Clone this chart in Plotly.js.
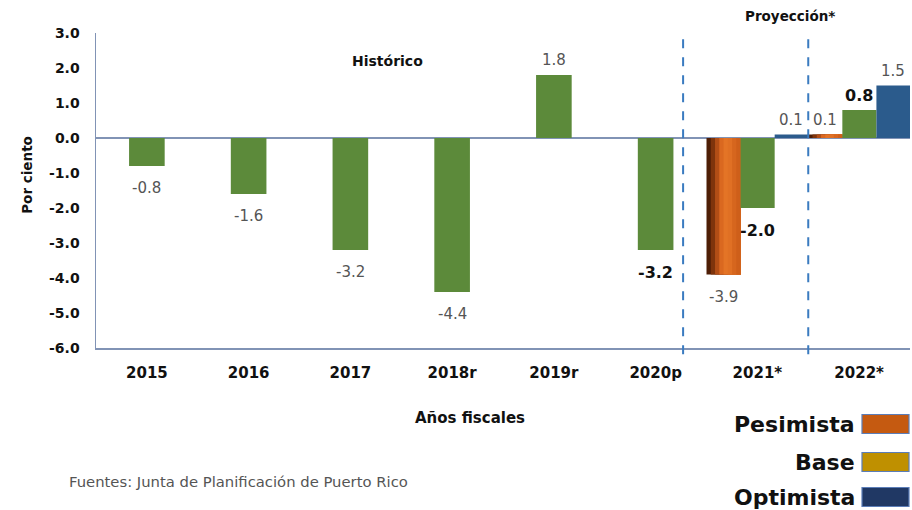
<!DOCTYPE html>
<html>
<head>
<meta charset="utf-8">
<script src="https://cdn.plot.ly/plotly-3.0.1.min.js"></script>
<style>html,body{margin:0;padding:0;background:#fff;}#chart{width:912px;height:510px;}</style>
</head>
<body>
<div id="chart"></div>
<script>
// ---- Data ----
const categories = ['2015', '2016', '2017', '2018r', '2019r', '2020p', '2021*', '2022*'];
const historicoYears = ['2015', '2016', '2017', '2018r', '2019r', '2020p'];
const historico = [-0.8, -1.6, -3.2, -4.4, 1.8, -3.2];
const historicoBold = [false, false, false, false, false, true];
const proyeccionYears = ['2021*', '2022*'];
const pesimista = [-3.9, 0.1];
const base = [-2.0, 0.8];
const optimista = [0.1, 1.5];
const baseBold = [true, true];
const yTickValues = [3, 2, 1, 0, -1, -2, -3, -4, -5, -6];
const yTickLabels = ['3.0', '2.0', '1.0', '0.0', '-1.0', '-2.0', '-3.0', '-4.0', '-5.0', '-6.0'];
const legendNames = ['Pesimista', 'Base', 'Optimista'];

// ---- Styles ----
const FONT = 'DejaVu Sans, sans-serif';
const GREEN = '#5C8A3A';
const BLUE = '#2B5B8C';
const AXIS = '#8193B5';
const legendColors = ['#C55A11', '#BF9000', '#203864'];
const orangeShades = ['#4E1E06', '#7E340C', '#B24E16', '#DA6820', '#E47426', '#E07024', '#D6661E', '#CE5F1A'];

const idx = c => categories.indexOf(c);
const hx = historicoYears.map(idx);
const px = proyeccionYears.map(idx);

const traces = [
  {type: 'bar', x: hx, y: historico, width: 0.35, marker: {color: GREEN}, hoverinfo: 'skip', showlegend: false}
];
// Pesimista bar drawn as overlapping layers for a shaded (gradient) look
const pesOffset = -0.5, pesWidth = 0.335;
const stripW = pesWidth / orangeShades.length;
orangeShades.forEach((c, k) => {
  traces.push({type: 'bar', x: px, y: pesimista, offset: pesOffset + k * stripW, width: pesWidth - k * stripW,
    marker: {color: c, line: {width: 0}}, hoverinfo: 'skip', showlegend: false});
});
traces.push(
  {type: 'bar', x: px, y: base, offset: -0.165, width: 0.335, marker: {color: GREEN}, hoverinfo: 'skip', showlegend: false},
  {type: 'bar', x: px, y: optimista, offset: 0.17, width: 0.33, marker: {color: BLUE}, hoverinfo: 'skip', showlegend: false}
);

function label(x, v, bold) {
  return {
    x: x, y: v, xref: 'x', yref: 'y', showarrow: false,
    text: bold ? '<b>' + v.toFixed(1) + '</b>' : v.toFixed(1),
    font: {family: FONT, size: bold ? 16 : 15, color: bold ? '#111' : '#555'},
    yanchor: 'middle', yshift: v < 0 ? -22 : 15
  };
}

const annotations = [];
historico.forEach((v, i) => annotations.push(label(hx[i], v, historicoBold[i])));
pesimista.forEach((v, i) => annotations.push(label(px[i] - 0.3325, v, false)));
base.forEach((v, i) => annotations.push(label(px[i], v, baseBold[i])));
optimista.forEach((v, i) => annotations.push(label(px[i] + 0.335, v, false)));

annotations.push(
  {x: 2.36, y: 2.2, xref: 'x', yref: 'y', text: '<b>Histórico</b>', showarrow: false, font: {family: FONT, size: 14, color: '#111'}},
  {x: 6.32, y: 1.055, xref: 'x', yref: 'paper', text: '<b>Proyección*</b>', showarrow: false, yanchor: 'middle', font: {family: FONT, size: 13.5, color: '#111'}},
  {x: 0.459, y: -0.222, xref: 'paper', yref: 'paper', text: '<b>Años fiscales</b>', showarrow: false, yanchor: 'middle', font: {family: FONT, size: 15, color: '#111'}},
  {x: -0.097, y: 0.55, xref: 'paper', yref: 'paper', text: '<b>Por ciento</b>', textangle: -90, showarrow: false, font: {family: FONT, size: 13.5, color: '#111'}},
  {x: -0.036, y: -0.425, xref: 'paper', yref: 'paper', xanchor: 'left', yanchor: 'middle', text: 'Fuentes: Junta de Planificación de Puerto Rico', showarrow: false, font: {family: FONT, size: 14.8, color: '#555'}}
);

const shapes = [
  {type: 'line', xref: 'x', yref: 'paper', x0: 5.27, x1: 5.27, y0: 0.98, y1: -0.04, line: {color: '#3A7BC0', width: 2, dash: 'dash'}},
  {type: 'line', xref: 'x', yref: 'paper', x0: 6.5, x1: 6.5, y0: 0.98, y1: -0.04, line: {color: '#3A7BC0', width: 2, dash: 'dash'}}
];

// Legend (text left of swatch)
const legendY = [424, 462, 497];
legendNames.forEach((n, i) => {
  const yc = (348 - legendY[i]) / 315;
  const h = 19 / 315;
  shapes.push({type: 'rect', xref: 'paper', yref: 'paper', x0: (862 - 96) / 814, x1: (909 - 96) / 814, y0: yc - h / 2, y1: yc + h / 2,
    fillcolor: legendColors[i], line: {color: '#5B7DB8', width: 1.2}});
  annotations.push({xref: 'paper', yref: 'paper', x: (857 - 96) / 814, y: yc, xanchor: 'right', yanchor: 'middle',
    text: '<b>' + n + '</b>', showarrow: false, font: {family: FONT, size: 22, color: '#111'}});
});

const layout = {
  width: 912, height: 510,
  margin: {l: 96, r: 2, t: 33, b: 162},
  paper_bgcolor: '#fff', plot_bgcolor: '#fff',
  barmode: 'overlay',
  showlegend: false,
  xaxis: {
    range: [-0.5, 7.5], tickmode: 'array', tickvals: categories.map((c, i) => i), ticktext: categories,
    showline: true, linecolor: AXIS, linewidth: 1.5, showgrid: false, zeroline: false, ticks: '',
    ticklabelstandoff: 10, fixedrange: true,
    tickfont: {family: FONT, size: 15, color: '#111', weight: 'bold'}
  },
  yaxis: {
    range: [-6, 3], tickmode: 'array', tickvals: yTickValues, ticktext: yTickLabels,
    showline: true, linecolor: AXIS, linewidth: 1.5, showgrid: false,
    zeroline: true, zerolinecolor: AXIS, zerolinewidth: 1.5, ticks: '',
    ticklabelstandoff: 12, fixedrange: true,
    tickfont: {family: FONT, size: 14, color: '#111', weight: 'bold'}
  },
  annotations: annotations,
  shapes: shapes
};

Plotly.newPlot('chart', traces, layout, {displayModeBar: false, staticPlot: true});
</script>
</body>
</html>
